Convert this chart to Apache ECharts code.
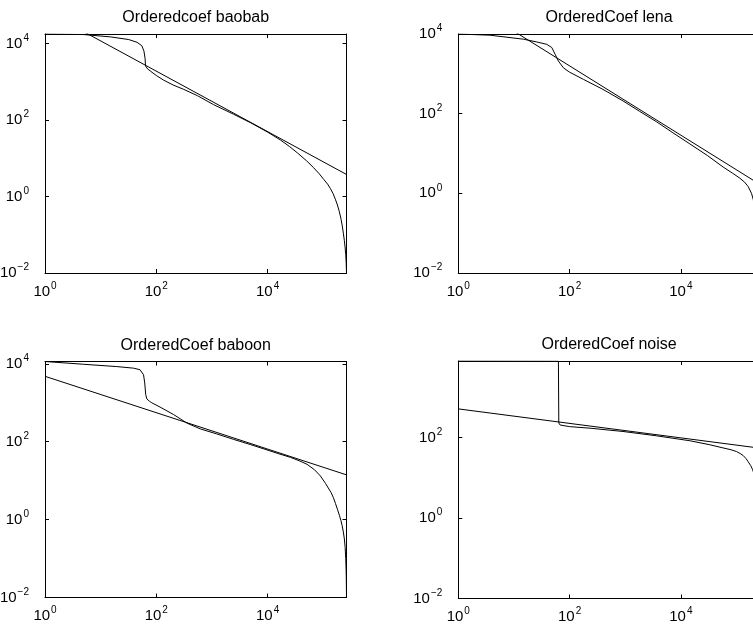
<!DOCTYPE html>
<html>
<head>
<meta charset="utf-8">
<script src="https://cdn.jsdelivr.net/npm/echarts@6/dist/echarts.min.js"></script>
<style>
  html, body { margin: 0; padding: 0; background: #fff; }
  #chart { width: 753px; height: 631px; }
</style>
</head>
<body>
<div id="chart"></div>
<script>
// titles of the four panels
var titles = ['Orderedcoef baobab', 'OrderedCoef lena', 'OrderedCoef baboon', 'OrderedCoef noise'];

// x range (rank of coefficient) and y top of each panel
var xMax = 262144;
var yMin = 0.01;
var yTop = [17600, 10000, 11500, 7940];

// ordered coefficients, baobab
var baobabRank = [1, 5, 15, 32, 45, 55, 60, 63, 64, 70, 78, 100, 135, 200, 310, 550, 1070, 2450, 5000, 9800, 17000, 25000, 34300, 50000, 67600, 85000, 102000, 120000, 135000, 150000, 165000, 180000, 195000, 210000, 220000, 230000, 240000, 248000, 254000, 259000, 262144];
var baobabCoef = [17600, 17000, 14800, 12600, 10700, 8700, 6300, 3980, 2570, 2150, 1900, 1450, 1100, 820, 630, 430, 251, 141, 84, 49, 30, 20, 13.8, 8.6, 5.6, 3.9, 2.8, 2.1, 1.6, 1.2, 0.85, 0.60, 0.40, 0.25, 0.17, 0.11, 0.07, 0.045, 0.03, 0.018, 0.01];
var baobabFit = [71600, 3.76];

// ordered coefficients, lena
var lenaRank = [1, 3.7, 8.5, 14.8, 25.7, 38.9, 47.9, 55, 63, 77.6, 100, 178, 398, 912, 1800, 3630, 7000, 14500, 30000, 57500, 85000, 115000, 140000, 162000, 186000, 200000, 215000, 232000, 248000, 262144];
var lenaCoef = [10000, 9330, 8130, 7410, 6310, 5500, 4570, 3090, 2090, 1410, 1100, 724, 407, 209, 115, 63, 34, 17.4, 8.9, 4.57, 3.2, 2.4, 1.9, 1.48, 1.0, 0.70, 0.40, 0.16, 0.05, 0.01];
var lenaFit = [87100, 1.68];

// ordered coefficients, baboon
var baboonRank = [1, 4.9, 19.5, 38.9, 51, 59, 62, 64.6, 67.6, 75, 83, 117, 204, 355, 617, 1200, 2450, 5000, 9770, 16000, 25700, 38000, 51300, 70000, 89100, 110000, 138000, 152000, 166000, 180000, 195000, 208000, 219000, 230000, 240000, 248000, 254000, 258000, 260000, 262144];
var baboonCoef = [11500, 9770, 8510, 7760, 7080, 5250, 3240, 1620, 1260, 1100, 1000, 776, 501, 302, 214, 160, 115, 84, 61.7, 49, 39.8, 32, 26.3, 19, 13.2, 8.5, 5.0, 3.7, 2.6, 1.85, 1.3, 0.95, 0.70, 0.48, 0.32, 0.19, 0.10, 0.05, 0.03, 0.01];
var baboonFit = [4790, 14.1];

// ordered coefficients, noise
var noiseRank = [1, 63, 64, 67.6, 100, 234, 912, 3630, 14500, 33100, 57500, 80000, 100000, 116000, 132000, 148000, 162000, 180000, 195000, 210000, 220000, 230000, 240000, 248000, 254000, 259000, 262144];
var noiseCoef = [7950, 7850, 229, 204, 186, 170, 141, 110, 83, 66, 55, 49.5, 44.7, 40, 35.5, 30, 25, 20, 15.8, 11.5, 8, 5.3, 2.5, 1.1, 0.4, 0.1, 0.01];
var noiseFit = [513, 54.3];

var fitRank = [1, 262144];

var ranks = [baobabRank, lenaRank, baboonRank, noiseRank];
var coefs = [baobabCoef, lenaCoef, baboonCoef, noiseCoef];
var fits = [baobabFit, lenaFit, baboonFit, noiseFit];

// panel boxes [left, top, width, height]
var boxes = [
  [45, 34, 301.5, 239],
  [458.3, 34, 301.5, 239],
  [45, 361.5, 301.5, 236],
  [458.3, 361, 301.5, 237.5]
];

var FONT = 'Liberation Sans, Arial, Helvetica, sans-serif';

function lg(v) { return Math.log10(v); }

function pairs(xs, ys) {
  return xs.map(function (x, i) { return [lg(x), lg(ys[i])]; });
}

function powLabel(v) {
  var k = Math.round(v);
  if (Math.abs(v - k) > 1e-6 || k % 2 !== 0) return '';
  return '{b|10}{sup|' + (k < 0 ? '\u2212' + (-k) : k) + '}';
}

var labelRich = {
  b: { fontSize: 15, fontFamily: FONT, color: '#000' },
  sup: { fontSize: 10, fontFamily: FONT, color: '#000', padding: [0, 0, 11, 1] }
};

var lineStyleAxis = { color: '#000', width: 1 };

var grids = [], xAxes = [], yAxes = [], series = [], titleList = [];

boxes.forEach(function (b, i) {
  grids.push({ left: b[0], top: b[1], width: b[2], height: b[3], containLabel: false, outerBoundsMode: 'none' });
  titleList.push({
    text: titles[i],
    left: b[0] + b[2] / 2,
    top: b[1] - 24,
    textAlign: 'center',
    padding: 0,
    textStyle: { fontSize: 16, fontWeight: 'normal', color: '#000', fontFamily: FONT }
  });
});

// bottom x / left y axes with labels
boxes.forEach(function (b, i) {
  xAxes.push({
    type: 'value', gridIndex: i, position: 'bottom',
    min: 0, max: lg(xMax), interval: 2,
    axisLine: { show: true, onZero: false, lineStyle: lineStyleAxis },
    axisTick: { show: true, inside: true, length: 4, lineStyle: lineStyleAxis },
    axisLabel: { show: true, margin: 8, formatter: powLabel, rich: labelRich, hideOverlap: false, showMaxLabel: true, showMinLabel: true },
    splitLine: { show: false }
  });
  yAxes.push({
    type: 'value', gridIndex: i, position: 'left',
    min: lg(yMin), max: lg(yTop[i]), interval: 2,
    axisLine: { show: true, onZero: false, lineStyle: lineStyleAxis },
    axisTick: { show: true, inside: true, length: 4, lineStyle: lineStyleAxis },
    axisLabel: { show: true, margin: 16, formatter: powLabel, rich: labelRich, hideOverlap: false },
    splitLine: { show: false }
  });
});

// mirrored top x / right y axes (box with ticks)
boxes.forEach(function (b, i) {
  xAxes.push({
    type: 'value', gridIndex: i, position: 'top',
    min: 0, max: lg(xMax), interval: 2,
    axisLine: { show: true, onZero: false, lineStyle: lineStyleAxis },
    axisTick: { show: true, inside: true, length: 4, lineStyle: lineStyleAxis },
    axisLabel: { show: false },
    splitLine: { show: false }
  });
  yAxes.push({
    type: 'value', gridIndex: i, position: 'right',
    min: lg(yMin), max: lg(yTop[i]), interval: 2,
    axisLine: { show: true, onZero: false, lineStyle: lineStyleAxis },
    axisTick: { show: true, inside: true, length: 4, lineStyle: lineStyleAxis },
    axisLabel: { show: false },
    splitLine: { show: false }
  });
});

boxes.forEach(function (b, i) {
  series.push({
    type: 'line', xAxisIndex: i, yAxisIndex: i,
    data: pairs(ranks[i], coefs[i]),
    showSymbol: false, clip: true,
    lineStyle: { color: '#000', width: 1 }
  });
  series.push({
    type: 'line', xAxisIndex: i, yAxisIndex: i,
    data: pairs(fitRank, fits[i]),
    showSymbol: false, clip: true,
    lineStyle: { color: '#000', width: 1 }
  });
});

var myChart = echarts.init(document.getElementById('chart'), null, { renderer: 'canvas' });
myChart.setOption({
  animation: false,
  backgroundColor: '#fff',
  title: titleList,
  grid: grids,
  xAxis: xAxes,
  yAxis: yAxes,
  series: series
});
</script>
</body>
</html>
